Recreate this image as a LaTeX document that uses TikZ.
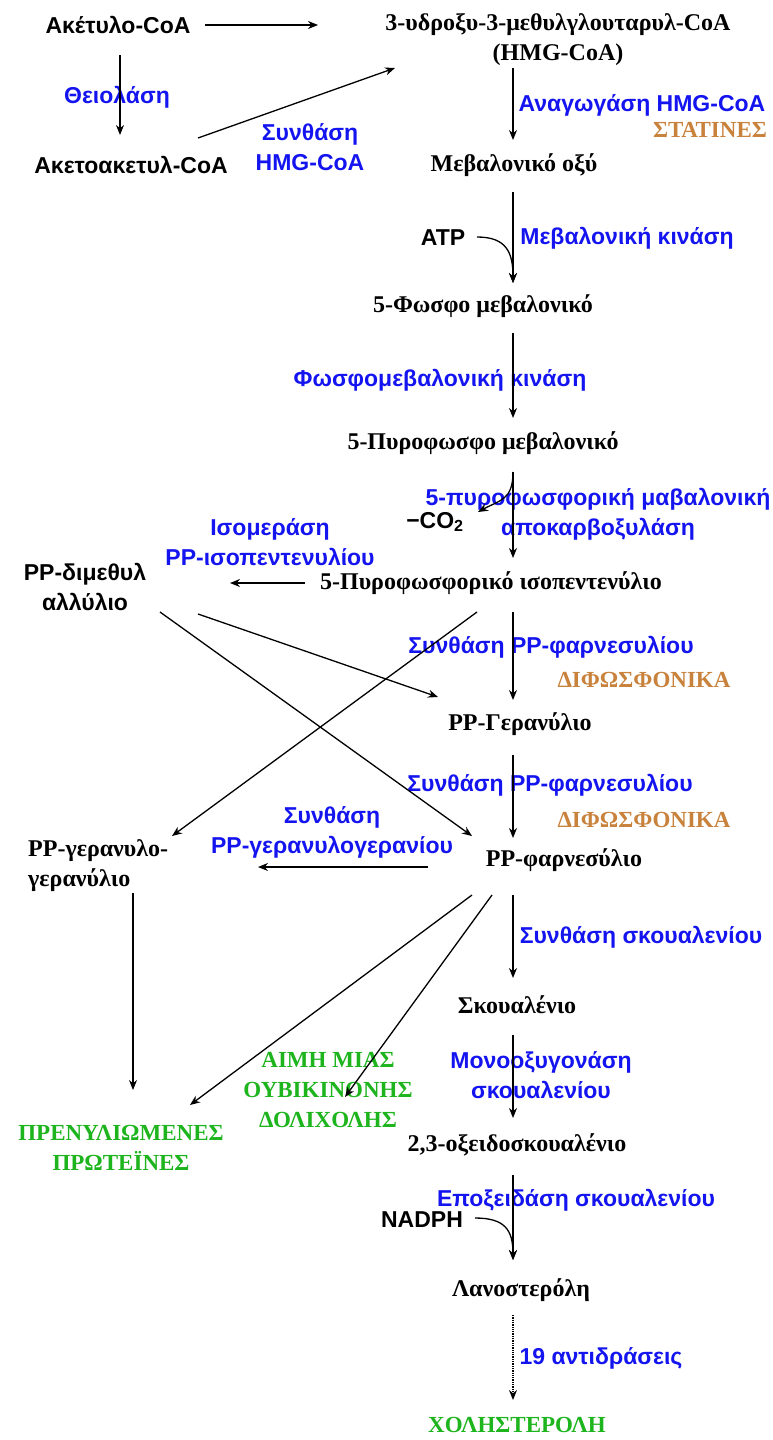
\documentclass[tikz,border=0pt]{standalone}
\usepackage{fontspec}
\setmainfont{Liberation Serif}
\setsansfont{Liberation Sans}
\usetikzlibrary{arrows.meta}
\definecolor{enzblue}{RGB}{20,20,240}
\definecolor{drugbrown}{RGB}{200,130,60}
\definecolor{prodgreen}{RGB}{30,180,30}
\tikzset{
  chem/.style={font=\fontsize{24}{30}\selectfont\bfseries, inner sep=0pt},
  cof/.style={font=\fontsize{23}{30}\selectfont\sffamily\bfseries, inner sep=0pt},
  enz/.style={text=enzblue, font=\fontsize{23}{30}\selectfont\sffamily\bfseries, inner sep=0pt},
  drug/.style={text=drugbrown, font=\fontsize{23}{30}\selectfont\bfseries, inner sep=0pt},
  prod/.style={text=prodgreen, font=\fontsize{23}{30}\selectfont\bfseries, inner sep=0pt},
  rx/.style={-{Stealth[length=10pt,width=8pt]}, line width=1.3pt},
}

\begin{document}
\begin{tikzpicture}[x=1pt,y=-1pt]
  \useasboundingbox (0,0) rectangle (772,1440);

  % Metabolites
  \node[cof] (acetyl) at (118,25) {Ακέτυλο-CoA};
  \node[chem,align=center] (hmg) at (558,40) {3-υδροξυ-3-μεθυλγλουταρυλ-CoA\\(HMG-CoA)};
  \node[cof] (acac) at (131,165) {Ακετοακετυλ-CoA};
  \node[chem] (mev) at (514,165) {Μεβαλονικό οξύ};
  \node[chem] (fosfo) at (483,306) {5-Φωσφο μεβαλονικό};
  \node[chem] (pyro) at (483,443) {5-Πυροφωσφο μεβαλονικό};
  \node[chem] (ipp) at (491,583) {5-Πυροφωσφορικό ισοπεντενύλιο};
  \node[cof,align=center] (dmapp) at (85,587) {PP-διμεθυλ\\αλλύλιο};
  \node[chem] (gerany) at (520,724) {PP-Γερανύλιο};
  \node[chem] (farn) at (564,860) {PP-φαρνεσύλιο};
  \node[chem,align=left,anchor=west] (ggpp) at (28,866) {PP-γερανυλο-\\γερανύλιο};
  \node[chem] (squal) at (517,1005) {Σκουαλένιο};
  \node[chem] (oxido) at (517,1145) {2,3-οξειδοσκουαλένιο};
  \node[chem] (lanost) at (521,1290) {Λανοστερόλη};

  % Products
  \node[prod,align=center] (prenyl) at (121,1148) {ΠΡΕΝΥΛΙΩΜΕΝΕΣ\\ΠΡΩΤΕΪΝΕΣ};
  \node[prod,align=center] (aimh) at (328,1090) {ΑΙΜΗ ΜΙΑΣ\\ΟΥΒΙΚΙΝΟΝΗΣ\\ΔΟΛΙΧΟΛΗΣ};
  \node[prod] (chol) at (517,1425) {ΧΟΛΗΣΤΕΡΟΛΗ};

  % Cofactors
  \node[cof] (atp) at (443,238) {ATP};
  \node[cof] (co2) at (435,522) {−CO\textsubscript{2}};
  \node[cof] (nadph) at (422,1220) {NADPH};

  % Enzymes
  \node[enz] (thiol) at (117,97) {Θειολάση};
  \node[enz,align=center] (hmgsyn) at (310,147) {Συνθάση\\HMG-CoA};
  \node[enz] (hmgred) at (642,105) {Αναγωγάση HMG-CoA};
  \node[enz] (mevkin) at (627,238) {Μεβαλονική κινάση};
  \node[enz] (pmevkin) at (440,380) {Φωσφομεβαλονική κινάση};
  \node[enz,align=center] (decarb) at (598,514) {5-πυροφωσφορική μαβαλονική\\αποκαρβοξυλάση};
  \node[enz,align=center] (isom) at (270,542) {Ισομεράση\\PP-ισοπεντενυλίου};
  \node[enz] (fpps1) at (551,647) {Συνθάση PP-φαρνεσυλίου};
  \node[enz] (fpps2) at (550,785) {Συνθάση PP-φαρνεσυλίου};
  \node[enz,align=center] (ggps) at (332,832) {Συνθάση\\PP-γερανυλογερανίου};
  \node[enz] (sqs) at (641,937) {Συνθάση σκουαλενίου};
  \node[enz,align=center] (sqmo) at (541,1075) {Μονοοξυγονάση\\σκουαλενίου};
  \node[enz] (epox) at (576,1200) {Εποξειδάση σκουαλενίου};
  \node[enz] (steps) at (601,1358) {19 αντιδράσεις};

  % Inhibitors
  \node[drug] (statin) at (710,130) {ΣΤΑΤΙΝΕΣ};
  \node[drug] (bisph1) at (644,680) {ΔΙΦΩΣΦΟΝΙΚΑ};
  \node[drug] (bisph2) at (644,820) {ΔΙΦΩΣΦΟΝΙΚΑ};

  % Top of the pathway
  \draw[rx] ([shift={(87,0)}]acetyl.center) -- ([shift={(-240,-15)}]hmg.center);
  \draw[rx] ([shift={(2,30)}]acetyl.center) -- ([shift={(-11,-30)}]acac.center);
  \draw[rx] ([shift={(67,-27)}]acac.center) -- ([shift={(-163,28)}]hmg.center);

  % Main column
  \draw[rx] ([shift={(-45,28)}]hmg.center) -- ([shift={(-1,-25)}]mev.center);
  \draw[rx] ([shift={(-1,27)}]mev.center) -- ([shift={(30,-23)}]fosfo.center);
  \draw[rx] ([shift={(34,-1)}]atp.center) .. controls +(30,0) and +(0,-30) .. ([shift={(30,-23)}]fosfo.center);
  \draw[rx] ([shift={(30,27)}]fosfo.center) -- ([shift={(30,-25)}]pyro.center);
  \draw[rx] ([shift={(30,29)}]pyro.center) -- ([shift={(22,-25)}]ipp.center);
  \draw[rx] ([shift={(30,29)}]pyro.center) .. controls +(0,28) and +(22,-12) .. ([shift={(43,-10)}]co2.center);
  \draw[rx] ([shift={(-186,0)}]ipp.center) -- ([shift={(145,-4)}]dmapp.center);
  \draw[rx] ([shift={(22,29)}]ipp.center) -- ([shift={(-7,-24)}]gerany.center);
  \draw[rx] ([shift={(-7,31)}]gerany.center) -- ([shift={(-51,-22)}]farn.center);

  % Crossing branches
  \draw[rx] ([shift={(75,25)}]dmapp.center) -- ([shift={(-92,-24)}]farn.center);
  \draw[rx] ([shift={(113,27)}]dmapp.center) -- ([shift={(-82,-27)}]gerany.center);
  \draw[rx] ([shift={(-14,29)}]ipp.center) -- ([shift={(144,-30)}]ggpp.west);
  \draw[rx] ([shift={(-136,7)}]farn.center) -- ([shift={(230,1)}]ggpp.west);
  \draw[rx] ([shift={(105,27)}]ggpp.west) -- ([shift={(12,-58)}]prenyl.center);
  \draw[rx] ([shift={(-92,35)}]farn.center) -- ([shift={(69,-43)}]prenyl.center);
  \draw[rx] ([shift={(-72,35)}]farn.center) -- ([shift={(17,7)}]aimh.center);

  % Sterol part
  \draw[rx] ([shift={(-51,35)}]farn.center) -- ([shift={(-4,-27)}]squal.center);
  \draw[rx] ([shift={(-4,30)}]squal.center) -- ([shift={(-4,-27)}]oxido.center);
  \draw[rx] ([shift={(-4,30)}]oxido.center) -- ([shift={(-8,-30)}]lanost.center);
  \draw[rx] ([shift={(53,-2)}]nadph.center) .. controls +(30,0) and +(0,-30) .. ([shift={(-8,-30)}]lanost.center);
  \draw[rx,line width=1.3pt,densely dotted] ([shift={(-8,25)}]lanost.center) -- ([shift={(-4,-25)}]chol.center);
\end{tikzpicture}
\end{document}
